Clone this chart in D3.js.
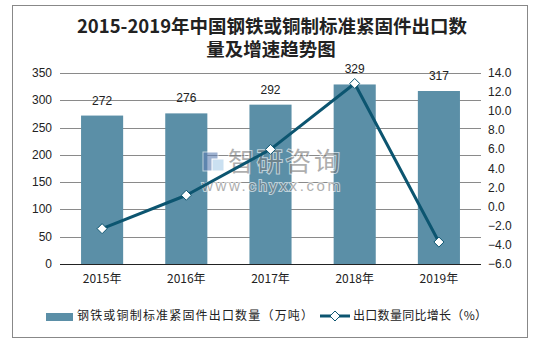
<!DOCTYPE html>
<html>
<head>
<meta charset="utf-8">
<script src="https://cdn.jsdelivr.net/npm/d3@7"></script>
<style>
  html, body { margin: 0; padding: 0; background: #fff; }
  svg { display: block; }
</style>
</head>
<body>
<script>
// Export volume (10k tonnes) and YoY growth (%), 2015–2019
const years = ["2015年", "2016年", "2017年", "2018年", "2019年"];
const volume = [272, 276, 292, 329, 317];
const growth = [-2.3, 1.2, 6.0, 12.9, -3.7];
const leftTicks = [0, 50, 100, 150, 200, 250, 300, 350];
const rightTicks = [-6, -4, -2, 0, 2, 4, 6, 8, 10, 12, 14];

const W = 542, H = 345;
const barColor = "#5b8fa7";
const lineColor = "#0c5570";
const numFont = "'Liberation Sans', Arial, sans-serif";
const cjkFont = "'Noto Sans CJK SC', 'Liberation Sans', sans-serif";

const svg = d3.select("body").append("svg").attr("width", W).attr("height", H);

// outer frame
svg.append("rect").attr("x", 12.5).attr("y", 5.5).attr("width", 515).attr("height", 332)
  .attr("fill", "#fff").attr("stroke", "#888").attr("stroke-width", 1);

// title
svg.append("text").attr("x", 272).attr("y", 33).attr("text-anchor", "middle")
  .style("font-family", cjkFont).style("font-weight", "bold").style("font-size", "18.5px").attr("fill", "#222")
  .text("2015-2019年中国钢铁或铜制标准紧固件出口数");
svg.append("text").attr("x", 271).attr("y", 56).attr("text-anchor", "middle")
  .style("font-family", cjkFont).style("font-weight", "bold").style("font-size", "18.5px").attr("fill", "#222")
  .text("量及增速趋势图");

const plot = { left: 60, right: 481, top: 73, bottom: 264 };

const x = d3.scaleBand().domain(years).range([plot.left, plot.right]).paddingInner(0.5).paddingOuter(0.25);
const yL = d3.scaleLinear().domain([0, 350]).range([plot.bottom, plot.top]);
const yR = d3.scaleLinear().domain([-6, 14]).range([plot.bottom, plot.top]);

// gridlines
svg.append("g").selectAll("line").data(leftTicks.filter(d => d > 0)).join("line")
  .attr("x1", plot.left).attr("x2", plot.right)
  .attr("y1", d => Math.round(yL(d)) + 0.5).attr("y2", d => Math.round(yL(d)) + 0.5)
  .attr("stroke", "#8a8a8a").attr("stroke-width", 1);

// left axis labels
svg.append("g").selectAll("text").data(leftTicks).join("text")
  .attr("x", 52).attr("y", d => yL(d) + 4).attr("text-anchor", "end")
  .style("font-family", numFont).style("font-size", "12px").attr("fill", "#222")
  .text(d => d);

// right axis labels
svg.append("g").selectAll("text").data(rightTicks).join("text")
  .attr("x", 488).attr("y", d => yR(d) + 4).attr("text-anchor", "start")
  .style("font-family", numFont).style("font-size", "12px").attr("fill", "#222")
  .text(d => d3.format(".1f")(d));

// bars
svg.append("g").selectAll("rect").data(volume).join("rect")
  .attr("x", (d, i) => x(years[i])).attr("width", x.bandwidth())
  .attr("y", d => yL(d)).attr("height", d => yL(0) - yL(d))
  .attr("fill", barColor);

// baseline
svg.append("line").attr("x1", plot.left).attr("x2", plot.right)
  .attr("y1", plot.bottom + 0.5).attr("y2", plot.bottom + 0.5)
  .attr("stroke", "#222").attr("stroke-width", 1);

// bar value labels
svg.append("g").selectAll("text").data(volume).join("text")
  .attr("x", (d, i) => x(years[i]) + x.bandwidth() / 2).attr("y", d => yL(d) - 11)
  .attr("text-anchor", "middle")
  .style("font-family", numFont).style("font-size", "12px").attr("fill", "#222")
  .text(d => d);

// category labels
svg.append("g").selectAll("text").data(years).join("text")
  .attr("x", d => x(d) + x.bandwidth() / 2).attr("y", 283).attr("text-anchor", "middle")
  .style("font-family", cjkFont).style("font-size", "12px").attr("fill", "#222")
  .text(d => d);

// watermark
const wm = svg.append("g").attr("opacity", 0.6);
wm.append("rect").attr("x", 203).attr("y", 152).attr("width", 15).attr("height", 19)
  .attr("fill", "#5f7fb3").attr("stroke", "#fff").attr("stroke-width", 1);
wm.append("rect").attr("x", 212).attr("y", 159).attr("width", 12).attr("height", 12)
  .attr("fill", "#a8cce8").attr("stroke", "#fff").attr("stroke-width", 1);
wm.append("text").attr("x", 228).attr("y", 171).attr("textLength", 112)
  .style("font-family", cjkFont).style("font-size", "26px")
  .attr("fill", "#7a7a7a").attr("stroke", "#fff").attr("stroke-width", 2).attr("paint-order", "stroke")
  .text("智研咨询");
wm.append("text").attr("x", 202).attr("y", 191).attr("textLength", 138)
  .style("font-family", numFont).style("font-size", "15px")
  .attr("fill", "#7a7a7a").attr("stroke", "#fff").attr("stroke-width", 2).attr("paint-order", "stroke")
  .text("www.chyxx.com");

// growth line
const cx = (d, i) => x(years[i]) + x.bandwidth() / 2;
const line = d3.line().x((d, i) => cx(d, i)).y(d => yR(d));
svg.append("path").datum(growth).attr("d", line)
  .attr("fill", "none").attr("stroke", lineColor).attr("stroke-width", 3).attr("stroke-linejoin", "round");

const diamond = d3.symbol().type(d3.symbolDiamond2).size(64);
svg.append("g").selectAll("path").data(growth).join("path")
  .attr("transform", (d, i) => `translate(${cx(d, i)},${yR(d)})`)
  .attr("d", diamond)
  .attr("fill", "#fff").attr("stroke", lineColor).attr("stroke-width", 1);

// legend
const lg = svg.append("g");
lg.append("rect").attr("x", 46).attr("y", 313).attr("width", 27).attr("height", 8).attr("fill", barColor);
lg.append("text").attr("x", 77).attr("y", 320).attr("textLength", 236)
  .style("font-family", cjkFont).style("font-size", "12px")
  .attr("fill", "#222").text("钢铁或铜制标准紧固件出口数量（万吨）");
lg.append("line").attr("x1", 320).attr("x2", 350).attr("y1", 316).attr("y2", 316)
  .attr("stroke", lineColor).attr("stroke-width", 3);
lg.append("path").attr("transform", "translate(335,316)").attr("d", diamond)
  .attr("fill", "#fff").attr("stroke", lineColor).attr("stroke-width", 1);
lg.append("text").attr("x", 353).attr("y", 320).attr("textLength", 134)
  .style("font-family", cjkFont).style("font-size", "12px")
  .attr("fill", "#222").text("出口数量同比增长（%）");
</script>
</body>
</html>
